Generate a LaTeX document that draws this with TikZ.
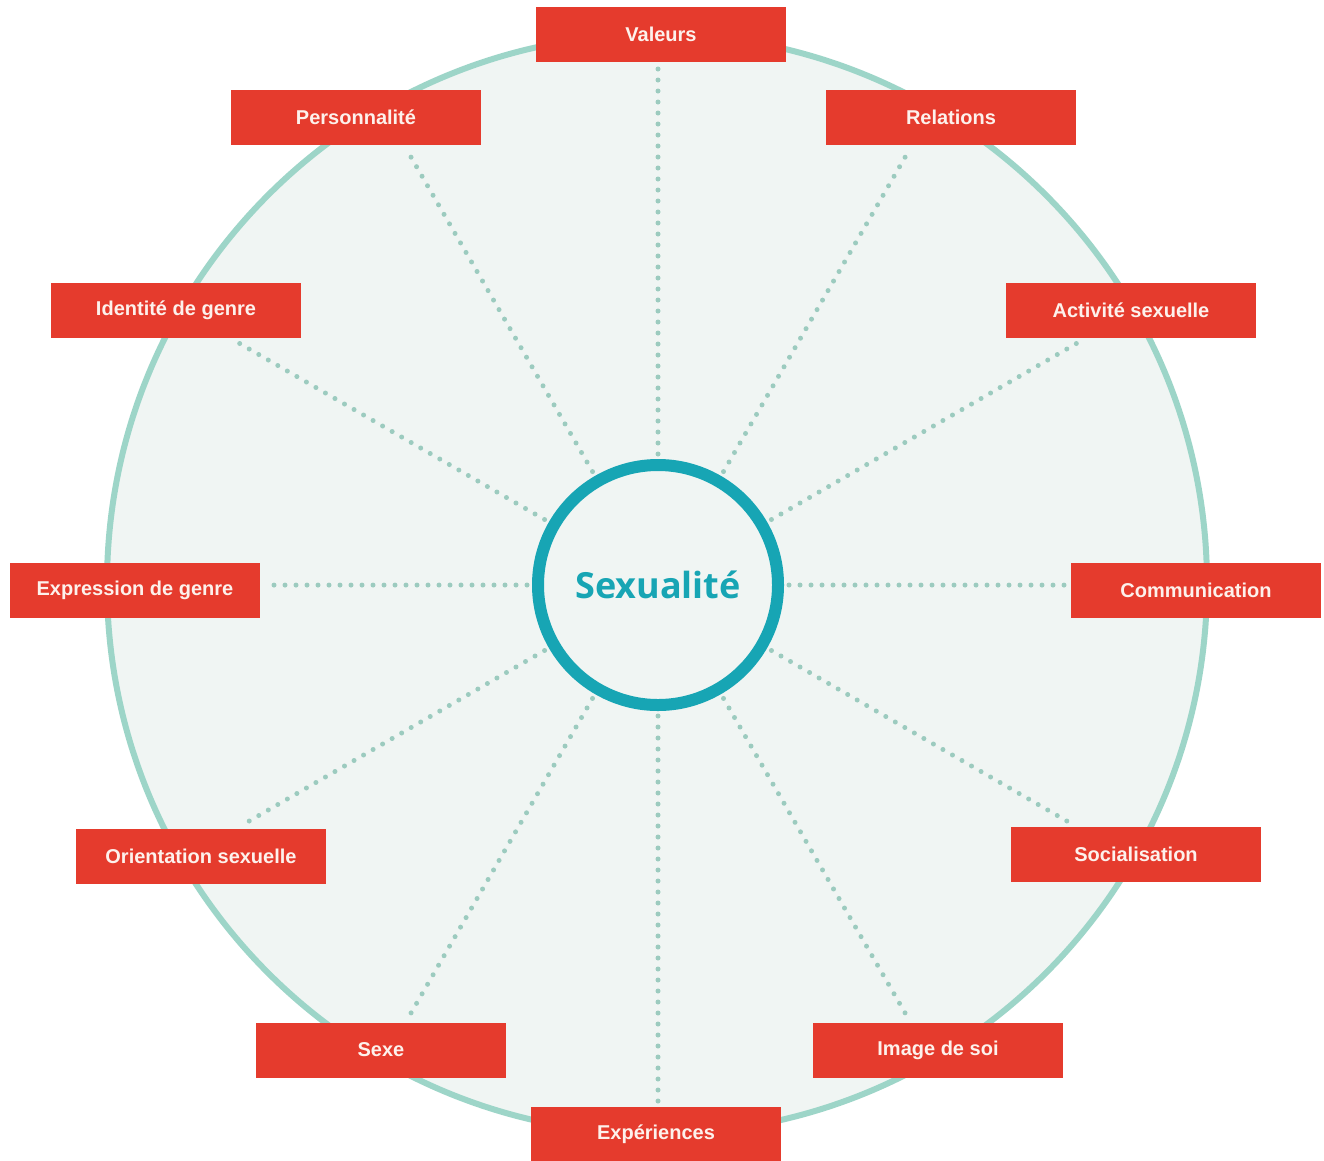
\documentclass[tikz,border=0pt]{standalone}
\usepackage{fontspec}
\setmainfont{Liberation Sans}
\newfontfamily\opensans{Open Sans}
\definecolor{boxred}{HTML}{E53B2D}
\definecolor{boxtext}{HTML}{FDF1EC}
\definecolor{bigfill}{HTML}{F0F5F3}
\definecolor{ringc}{HTML}{9DD5C8}
\definecolor{dotc}{HTML}{9CCBBF}
\definecolor{coreteal}{HTML}{17A5B4}
\begin{document}
\begin{tikzpicture}[x=1pt,y=-1pt,
  box/.style={fill=boxred, minimum width=250pt, minimum height=55pt, inner sep=0pt,
    text=boxtext, font=\fontsize{20}{24}\selectfont\bfseries},
  dotline/.style={draw=dotc, line width=5pt, line cap=round,
    dash pattern=on 0pt off 11pt, shorten <=5pt, shorten >=4pt}]
\useasboundingbox (0,0) rectangle (1324,1160);
\fill[white] (0,0) rectangle (1324,1160);
\node[circle, draw=ringc, line width=6pt, fill=bigfill, minimum size=1100pt, inner sep=0pt] (outer) at (657,584) {};
\node[circle, draw=coreteal, line width=12pt, fill=bigfill, minimum size=240pt, inner sep=0pt,
  text=coreteal, font=\opensans\bfseries\fontsize{36}{40}\selectfont] (core) at (658,585) {Sexualité};

\node[box] (val) at (661,34) {Valeurs};
\node[box] (pers) at (356,117) {Personnalité};
\node[box] (rel) at (951,117) {Relations};
\node[box] (ident) at (176,310) {Identité de genre};
\node[box] (act) at (1131,310) {Activité sexuelle};
\node[box] (expr) at (135,590) {Expression de genre};
\node[box] (comm) at (1196,590) {Communication};
\node[box] (orient) at (201,856) {Orientation sexuelle};
\node[box] (soc) at (1136,854) {Socialisation};
\node[box] (sexe) at (381,1050) {Sexe};
\node[box] (img) at (938,1050) {Image de soi};
\node[box] (exp) at (656,1134) {Expériences};

\draw[dotline] (core.90) -- (intersection of core.center--core.90 and val.south west--val.south east);
\draw[dotline] (core.120) -- (intersection of core.center--core.120 and pers.south west--pers.south east);
\draw[dotline] (core.60) -- (intersection of core.center--core.60 and rel.south west--rel.south east);
\draw[dotline] (core.150) -- (intersection of core.center--core.150 and ident.south west--ident.south east);
\draw[dotline] (core.30) -- (intersection of core.center--core.30 and act.south west--act.south east);
\draw[dotline] (core.180) -- (intersection of core.center--core.180 and expr.north east--expr.south east);
\draw[dotline] (core.0) -- (intersection of core.center--core.0 and comm.north west--comm.south west);
\draw[dotline] (core.-150) -- (intersection of core.center--core.-150 and orient.north west--orient.north east);
\draw[dotline] (core.-30) -- (intersection of core.center--core.-30 and soc.north west--soc.north east);
\draw[dotline] (core.-120) -- (intersection of core.center--core.-120 and sexe.north west--sexe.north east);
\draw[dotline] (core.-60) -- (intersection of core.center--core.-60 and img.north west--img.north east);
\draw[dotline] (core.-90) -- (intersection of core.center--core.-90 and exp.north west--exp.north east);
\end{tikzpicture}
\end{document}
